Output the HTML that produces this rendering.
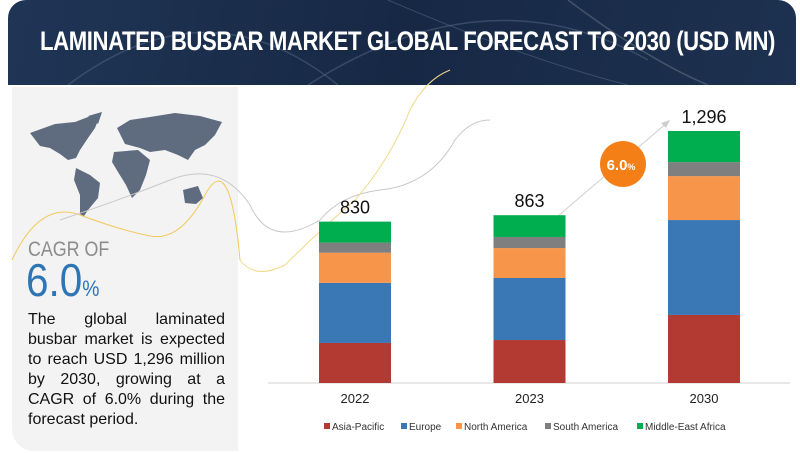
<!DOCTYPE html>
<html><head><meta charset="utf-8">
<style>
*{margin:0;padding:0;box-sizing:border-box}
body{width:800px;height:453px;background:#fff;position:relative;overflow:hidden;font-family:"Liberation Sans",sans-serif}
#header{position:absolute;left:8px;top:0;width:788px;height:85px;border-radius:18px 18px 0 0;background:linear-gradient(100deg,#203556 0%,#162844 50%,#1d3150 100%);overflow:hidden}
#title{position:absolute;left:32px;top:26px;color:#fff;font-weight:bold;font-size:27px;letter-spacing:-0.5px;white-space:nowrap;transform-origin:left top;display:inline-block}
#left{position:absolute;left:12px;top:87px;width:226px;height:364px;background:#f3f3f3;border-radius:0 0 0 22px}
#cagr-of{position:absolute;left:28px;top:238px;font-size:21px;color:#8c8c8c;transform:scaleX(0.85);transform-origin:left}
#cagr-val{position:absolute;left:26px;top:253px;font-size:46px;color:#2e75b6;transform:scaleX(0.88);transform-origin:left}
#cagr-val span{font-size:22px}
#desc{position:absolute;left:28px;top:310px;width:197px;font-size:16px;line-height:20px;color:#111}
#desc div{text-align:justify;text-align-last:justify;white-space:nowrap}
#desc div.last{text-align-last:left}
</style></head><body>
<div id="header">
<svg width="788" height="85" style="position:absolute;left:0;top:0">
<path d="M60 85 Q200 -20 330 85" stroke="#4c5f7e" fill="none" stroke-width="1.5" opacity="0.6"/>
<path d="M300 85 Q480 -30 640 60" stroke="#4c5f7e" fill="none" stroke-width="1.5" opacity="0.6"/>
<path d="M560 0 Q640 60 700 85" stroke="#6a7a8c" fill="none" stroke-width="1.5" opacity="0.5"/>
<path d="M380 0 Q520 60 620 85" stroke="#5a6c84" fill="none" stroke-width="1" opacity="0.5"/>
</svg>
<div id="title">LAMINATED BUSBAR MARKET GLOBAL FORECAST TO 2030 (USD MN)</div>
</div>
<div id="left"></div>
<svg width="800" height="453" style="position:absolute;left:0;top:0">
<g fill="#5f6b7e">
<path d="M30 133 L55 124 L75 122 L88 117 L100 115 L95 128 L88 138 L80 150 L76 158 L68 160 L60 154 L50 148 L40 146 Z"/>
<path d="M88 116 L102 112 L98 124 Z"/>
<path d="M76 168 L90 175 L100 183 L98 198 L88 210 L84 216 L80 214 L80 195 L74 180 Z"/>
<path d="M117 128 L130 120 L150 117 L175 113 L200 116 L222 122 L215 135 L205 145 L195 150 L188 160 L178 155 L165 150 L150 152 L140 148 L125 144 Z"/>
<path d="M114 152 L138 150 L150 160 L146 175 L140 190 L132 198 L126 185 L118 172 L112 162 Z"/>
<path d="M183 190 L198 186 L203 198 L196 204 L185 203 Z"/>
</g>
<path d="M12 260 Q40 200 80 215 T150 236 T205 195 T240 260" stroke="#f3c85a" fill="none" stroke-width="1"/>
<path d="M60 220 Q120 200 170 180 T250 205 Q270 250 320 220 Q340 195 380 190 Q430 185 455 140 Q470 120 490 120" stroke="#c8c8c8" fill="none" stroke-width="1"/>
<path d="M240 260 Q255 280 285 265 Q320 230 355 200 Q390 160 410 110 Q425 80 450 70" stroke="#f3d88a" fill="none" stroke-width="1"/>
</svg>
<div id="cagr-of">CAGR OF</div>
<div id="cagr-val">6.0<span>%</span></div>
<div id="desc"><div>The global laminated</div><div>busbar market is expected</div><div>to reach USD 1,296 million</div><div>by 2030, growing at a</div><div>CAGR of 6.0% during the</div><div class="last">forecast period.</div></div>
<svg id="chart" width="800" height="453" style="position:absolute;left:0;top:0"></svg>
<script>
const categories=["2022","2023","2030"];
const seriesNames=["Asia-Pacific","Europe","North America","South America","Middle-East Africa"];
const asiaPacific=[206,221,350];
const europe=[309,319,488];
const northAmerica=[155,154,226];
const southAmerica=[52,57,72];
const middleEastAfrica=[108,112,160];
const totalLabels=["830","863","1,296"];
const series=[asiaPacific,europe,northAmerica,southAmerica,middleEastAfrica];
const colors=["#b33a32","#3a78b5","#f7964a","#7f7f7f","#00ae4f"];
// fit title
const ti=document.getElementById('title');
ti.style.transform='scaleX('+(735/ti.offsetWidth)+')';
// fit desc lines
document.querySelectorAll('#desc div').forEach(d=>{
  if(d.classList.contains('last'))return;
  const s=document.createElement('span');s.textContent=d.textContent;d.textContent='';d.appendChild(s);
  const w=s.offsetWidth;const words=s.textContent.split(' ').length-1;
  d.style.whiteSpace='normal';
  s.style.wordSpacing=words>0?((197-w)/words)+'px':'0';
});
const NS="http://www.w3.org/2000/svg";
const svg=document.getElementById('chart');
const baseY=383, pxPerUnit=252/1296;
const yScale=v=>baseY-v*pxPerUnit;
const xCenter=i=>355+i*174.5;
const barW=72;
function mk(tag,attrs){const e=document.createElementNS(NS,tag);for(const k in attrs)e.setAttribute(k,attrs[k]);svg.appendChild(e);return e;}
const axis=mk('line',{x1:268,y1:baseY,x2:790,y2:baseY,stroke:'#d0d0d0','stroke-width':1});


const arr=mk('line',{x1:558,y1:216,x2:668,y2:122,stroke:'#cfcfcf','stroke-width':1});


const ah=mk('path',{d:'M670 120 L661 123 L666 128 Z',fill:'#cfcfcf'});


categories.forEach((c,i)=>{
  let cum=0;
  series.forEach((s,j)=>{
    const y0=yScale(cum),y1=yScale(cum+s[i]);cum+=s[i];
    const r=mk('rect',{x:xCenter(i)-barW/2,y:y1,width:barW,height:y0-y1,fill:colors[j]});
    
    
  });
  const t=mk('text',{x:xCenter(i),y:yScale(cum)-8,'text-anchor':'middle','font-size':18,fill:'#111','font-family':'Liberation Sans, sans-serif'});
  t.textContent=totalLabels[i];
  
  
  const xl=mk('text',{x:xCenter(i),y:403,'text-anchor':'middle','font-size':13,fill:'#222','font-family':'Liberation Sans, sans-serif'});
  xl.textContent=c;
  
  
});
const circ=mk('circle',{cx:623,cy:164,r:23,fill:'#f57f17'});


const ct=mk('text',{x:621,y:170,'text-anchor':'middle','font-size':15,'font-weight':'bold',fill:'#fff','font-family':'Liberation Sans, sans-serif'});
ct.innerHTML='6.0<tspan font-size="9">%</tspan>';


const legX=[324,401,456,545,637];
seriesNames.forEach((n,j)=>{
  const r=mk('rect',{x:legX[j],y:423,width:6,height:6,fill:colors[j]});
  
  
  const t=mk('text',{x:legX[j]+8,y:430,'font-size':10,fill:'#333','font-family':'Liberation Sans, sans-serif'});
  t.textContent=n;
  
  
});
</script>
</body></html>
